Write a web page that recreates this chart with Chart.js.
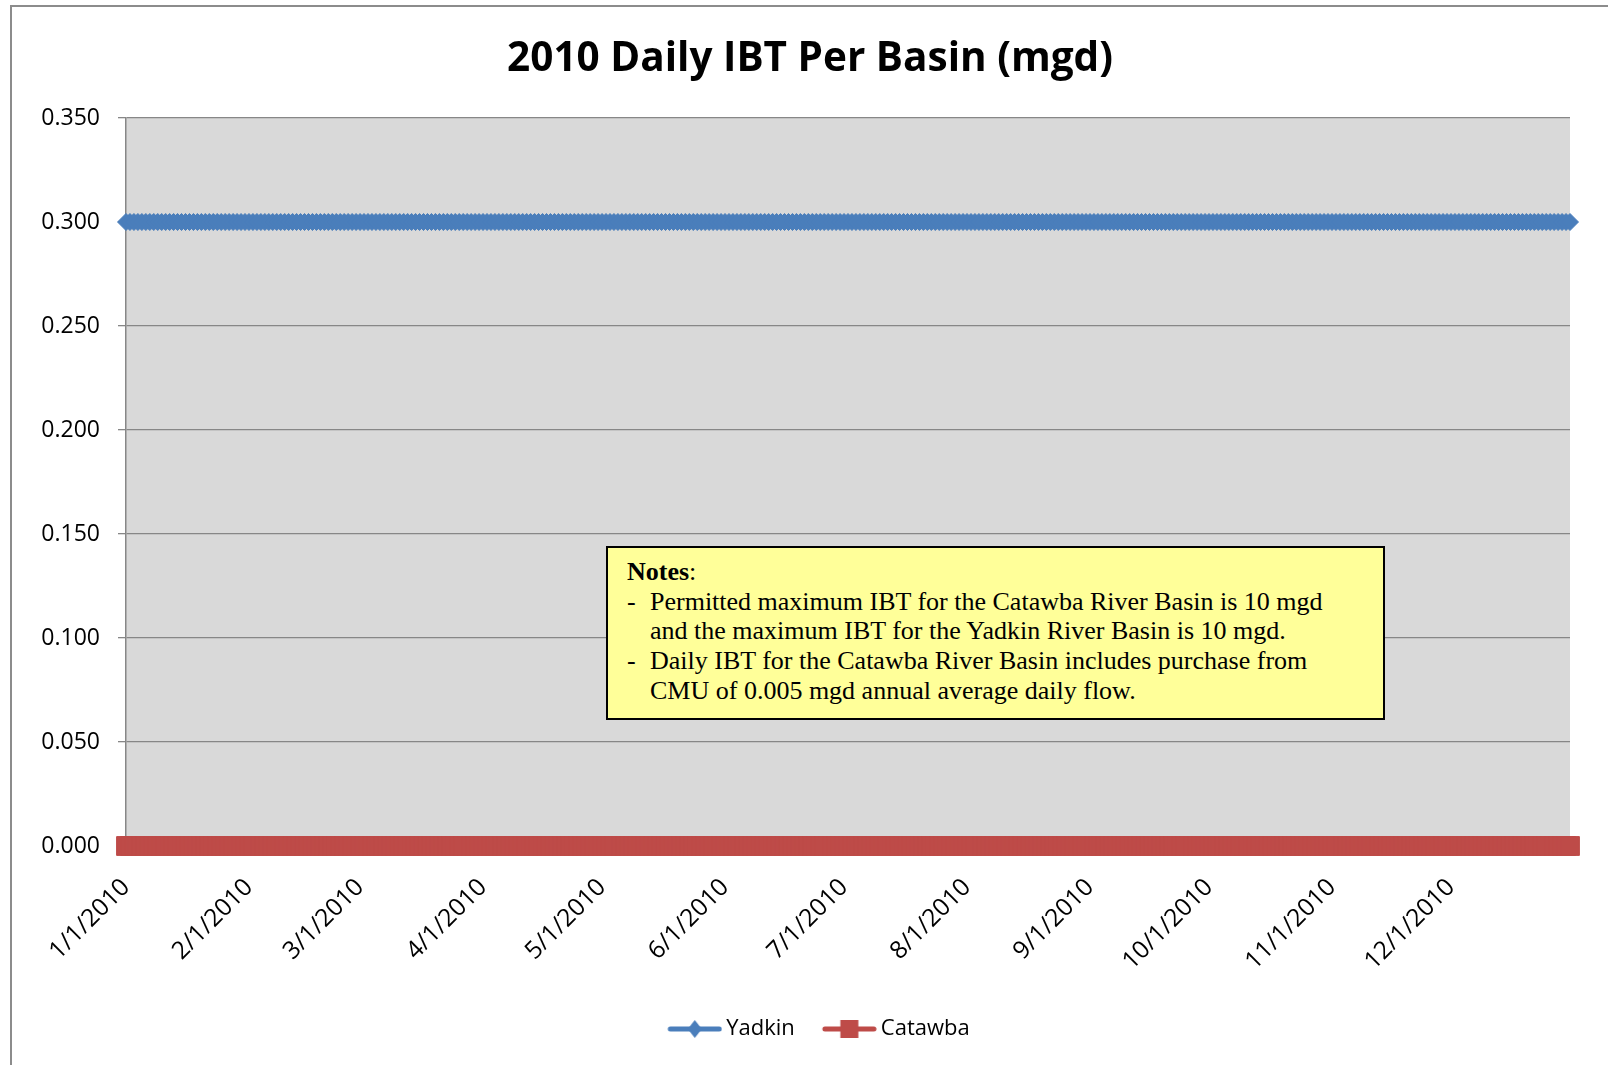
<!DOCTYPE html>
<html>
<head>
<meta charset="utf-8">
<title>2010 Daily IBT Per Basin (mgd)</title>
<script src="https://cdn.jsdelivr.net/npm/chart.js@4.4.1/dist/chart.umd.min.js"></script>
<style>
    html, body { margin: 0; padding: 0; background: #fff; }
    #wrap { position: relative; width: 1608px; height: 1065px; overflow: hidden; }
    #frame {
        position: absolute; left: 10px; top: 5px; width: 1620px; height: 1100px;
        border-left: 2px solid #8c8c8c; border-top: 2px solid #8c8c8c;
    }
    #ibtChart { position: absolute; left: 0; top: 0; }
    #notes {
        position: absolute; left: 606px; top: 546px; width: 779px; height: 174px;
        box-sizing: border-box; border: 2px solid #000; background: #ffff99;
        padding: 9px 0 0 19px;
        font-family: "Liberation Serif", "Times New Roman", serif; font-size: 26px;
        line-height: 29.7px; color: #000; white-space: nowrap;
    }
    #notes .item { position: relative; padding-left: 23px; }
    #notes .item span.dash { position: absolute; left: 0; top: 0; }
</style>
</head>
<body>
<div id="wrap">
    <div id="frame"></div>
    <canvas id="ibtChart" width="1608" height="1065"></canvas>
    <div id="notes">
        <div><b>Notes</b>:</div>
        <div class="item"><span class="dash">-</span>Permitted maximum IBT for the Catawba River Basin is 10 mgd<br>and the maximum IBT for the Yadkin River Basin is 10 mgd.</div>
        <div class="item"><span class="dash">-</span>Daily IBT for the Catawba River Basin includes purchase from<br>CMU of 0.005 mgd annual average daily flow.</div>
    </div>
</div>

<script>
// Days in each month of 2010, used to build the daily date categories
const monthDays = [31, 28, 31, 30, 31, 30, 31, 31, 30, 31, 30, 31];

// Y axis ticks (mgd)
const yMin = 0;
const yMax = 0.35;
const yStep = 0.05;

// Daily IBT, Yadkin basin (mgd), one row per month
const yadkin = [
    0.3,0.3,0.3,0.3,0.3,0.3,0.3,0.3,0.3,0.3, 0.3,0.3,0.3,0.3,0.3,0.3,0.3,0.3,0.3,0.3, 0.3,0.3,0.3,0.3,0.3,0.3,0.3,0.3,0.3,0.3, 0.3,
    0.3,0.3,0.3,0.3,0.3,0.3,0.3,0.3,0.3,0.3, 0.3,0.3,0.3,0.3,0.3,0.3,0.3,0.3,0.3,0.3, 0.3,0.3,0.3,0.3,0.3,0.3,0.3,0.3,
    0.3,0.3,0.3,0.3,0.3,0.3,0.3,0.3,0.3,0.3, 0.3,0.3,0.3,0.3,0.3,0.3,0.3,0.3,0.3,0.3, 0.3,0.3,0.3,0.3,0.3,0.3,0.3,0.3,0.3,0.3, 0.3,
    0.3,0.3,0.3,0.3,0.3,0.3,0.3,0.3,0.3,0.3, 0.3,0.3,0.3,0.3,0.3,0.3,0.3,0.3,0.3,0.3, 0.3,0.3,0.3,0.3,0.3,0.3,0.3,0.3,0.3,0.3,
    0.3,0.3,0.3,0.3,0.3,0.3,0.3,0.3,0.3,0.3, 0.3,0.3,0.3,0.3,0.3,0.3,0.3,0.3,0.3,0.3, 0.3,0.3,0.3,0.3,0.3,0.3,0.3,0.3,0.3,0.3, 0.3,
    0.3,0.3,0.3,0.3,0.3,0.3,0.3,0.3,0.3,0.3, 0.3,0.3,0.3,0.3,0.3,0.3,0.3,0.3,0.3,0.3, 0.3,0.3,0.3,0.3,0.3,0.3,0.3,0.3,0.3,0.3,
    0.3,0.3,0.3,0.3,0.3,0.3,0.3,0.3,0.3,0.3, 0.3,0.3,0.3,0.3,0.3,0.3,0.3,0.3,0.3,0.3, 0.3,0.3,0.3,0.3,0.3,0.3,0.3,0.3,0.3,0.3, 0.3,
    0.3,0.3,0.3,0.3,0.3,0.3,0.3,0.3,0.3,0.3, 0.3,0.3,0.3,0.3,0.3,0.3,0.3,0.3,0.3,0.3, 0.3,0.3,0.3,0.3,0.3,0.3,0.3,0.3,0.3,0.3, 0.3,
    0.3,0.3,0.3,0.3,0.3,0.3,0.3,0.3,0.3,0.3, 0.3,0.3,0.3,0.3,0.3,0.3,0.3,0.3,0.3,0.3, 0.3,0.3,0.3,0.3,0.3,0.3,0.3,0.3,0.3,0.3,
    0.3,0.3,0.3,0.3,0.3,0.3,0.3,0.3,0.3,0.3, 0.3,0.3,0.3,0.3,0.3,0.3,0.3,0.3,0.3,0.3, 0.3,0.3,0.3,0.3,0.3,0.3,0.3,0.3,0.3,0.3, 0.3,
    0.3,0.3,0.3,0.3,0.3,0.3,0.3,0.3,0.3,0.3, 0.3,0.3,0.3,0.3,0.3,0.3,0.3,0.3,0.3,0.3, 0.3,0.3,0.3,0.3,0.3,0.3,0.3,0.3,0.3,0.3,
    0.3,0.3,0.3,0.3,0.3,0.3,0.3,0.3,0.3,0.3, 0.3,0.3,0.3,0.3,0.3,0.3,0.3,0.3,0.3,0.3, 0.3,0.3,0.3,0.3,0.3,0.3,0.3,0.3,0.3,0.3, 0.3
];

// Daily IBT, Catawba basin (mgd), one row per month
const catawba = [
    0,0,0,0,0,0,0,0,0,0, 0,0,0,0,0,0,0,0,0,0, 0,0,0,0,0,0,0,0,0,0, 0,
    0,0,0,0,0,0,0,0,0,0, 0,0,0,0,0,0,0,0,0,0, 0,0,0,0,0,0,0,0,
    0,0,0,0,0,0,0,0,0,0, 0,0,0,0,0,0,0,0,0,0, 0,0,0,0,0,0,0,0,0,0, 0,
    0,0,0,0,0,0,0,0,0,0, 0,0,0,0,0,0,0,0,0,0, 0,0,0,0,0,0,0,0,0,0,
    0,0,0,0,0,0,0,0,0,0, 0,0,0,0,0,0,0,0,0,0, 0,0,0,0,0,0,0,0,0,0, 0,
    0,0,0,0,0,0,0,0,0,0, 0,0,0,0,0,0,0,0,0,0, 0,0,0,0,0,0,0,0,0,0,
    0,0,0,0,0,0,0,0,0,0, 0,0,0,0,0,0,0,0,0,0, 0,0,0,0,0,0,0,0,0,0, 0,
    0,0,0,0,0,0,0,0,0,0, 0,0,0,0,0,0,0,0,0,0, 0,0,0,0,0,0,0,0,0,0, 0,
    0,0,0,0,0,0,0,0,0,0, 0,0,0,0,0,0,0,0,0,0, 0,0,0,0,0,0,0,0,0,0,
    0,0,0,0,0,0,0,0,0,0, 0,0,0,0,0,0,0,0,0,0, 0,0,0,0,0,0,0,0,0,0, 0,
    0,0,0,0,0,0,0,0,0,0, 0,0,0,0,0,0,0,0,0,0, 0,0,0,0,0,0,0,0,0,0,
    0,0,0,0,0,0,0,0,0,0, 0,0,0,0,0,0,0,0,0,0, 0,0,0,0,0,0,0,0,0,0, 0
];

const seriesNames = ['Yadkin', 'Catawba'];
const seriesColors = ['#4a7ebb', '#be4b48'];

// Build m/d/2010 labels for every day
const dateLabels = [];
monthDays.forEach((n, m) => {
    for (let d = 1; d <= n; d++) dateLabels.push((m + 1) + '/' + d + '/2010');
});

// Legend icon: line segment with the series marker in the middle
function legendIcon(color, shape) {
    const c = document.createElement('canvas');
    c.width = 79;
    c.height = 22;
    const g = c.getContext('2d');
    g.strokeStyle = color;
    g.lineWidth = 5;
    g.lineCap = 'round';
    g.beginPath();
    g.moveTo(27, 11);
    g.lineTo(76, 11);
    g.stroke();
    g.fillStyle = color;
    const cx = 51.5;
    if (shape === 'diamond') {
        g.beginPath();
        g.moveTo(cx, 2);
        g.lineTo(cx + 7, 11);
        g.lineTo(cx, 20);
        g.lineTo(cx - 7, 11);
        g.closePath();
        g.fill();
    } else {
        g.fillRect(cx - 9, 2, 18, 18);
    }
    return c;
}
const legendIcons = [legendIcon(seriesColors[0], 'diamond'), legendIcon(seriesColors[1], 'square')];

// Grey plot area like the spreadsheet
const plotBackground = {
    id: 'plotBackground',
    beforeDraw(chart) {
        const { ctx, chartArea: a } = chart;
        ctx.save();
        ctx.fillStyle = '#d9d9d9';
        ctx.fillRect(a.left, a.top, a.right - a.left, a.bottom - a.top);
        ctx.restore();
    }
};

// the y labels stick out past the left layout padding; widen their clip box
const unclipYLabels = {
    id: 'unclipYLabels',
    afterLayout(chart) {
        chart.scales.y.left = 0;
    }
};

const ctx = document.getElementById('ibtChart');
new Chart(ctx, {
    type: 'line',
    data: {
        labels: dateLabels,
        datasets: [{
            label: seriesNames[0],
            data: yadkin,
            borderColor: seriesColors[0],
            backgroundColor: seriesColors[0],
            borderWidth: 3,
            pointStyle: 'rectRot',
            pointRadius: 8.5,
            pointBorderWidth: 1,
            pointBorderColor: seriesColors[0],
            pointBackgroundColor: seriesColors[0],
            clip: false
        }, {
            label: seriesNames[1],
            data: catawba,
            borderColor: seriesColors[1],
            backgroundColor: seriesColors[1],
            borderWidth: 3,
            pointStyle: 'rect',
            pointRadius: 13.3,
            pointBorderWidth: 1,
            pointBorderColor: seriesColors[1],
            pointBackgroundColor: seriesColors[1],
            clip: false
        }]
    },
    options: {
        responsive: false,
        animation: false,
        events: [],
        layout: {
            padding: { top: 0, left: 50, right: 38, bottom: 15 }
        },
        scales: {
            x: {
                afterFit: function (scale) {
                    scale.height = 162;
                    // keep the plot edges where the layout padding puts them
                    scale.paddingLeft = 0;
                    scale.paddingRight = 0;
                },
                grid: { display: false },
                border: { display: false },
                ticks: {
                    autoSkip: false,
                    minRotation: 45,
                    maxRotation: 45,
                    padding: 19,
                    color: '#000',
                    font: { family: 'Open Sans', size: 24.5 },
                    callback: function (value) {
                        const lab = this.getLabelForValue(value);
                        return lab.split('/')[1] === '1' ? lab : '';
                    }
                }
            },
            y: {
                min: yMin,
                max: yMax,
                afterFit: function (scale) { scale.width = 76; },
                grid: { color: '#878787', lineWidth: 1.3, tickLength: 8 },
                border: { display: true, color: '#878787', width: 1.5 },
                ticks: {
                    stepSize: yStep,
                    padding: 18,
                    color: '#000',
                    font: { family: 'Open Sans', size: 23 },
                    callback: function (value) { return value.toFixed(3); }
                }
            }
        },
        plugins: {
            title: {
                display: true,
                text: '2010 Daily IBT Per Basin (mgd)',
                color: '#000',
                font: { family: 'Open Sans', size: 40.5, weight: 'bold' },
                padding: { top: 35, bottom: 34.4 }
            },
            legend: {
                position: 'bottom',
                labels: {
                    usePointStyle: true,
                    pointStyleWidth: 65,
                    boxHeight: 22,
                    padding: 10,
                    color: '#000',
                    font: { family: 'Open Sans', size: 22 },
                    generateLabels: function (chart) {
                        const items = Chart.defaults.plugins.legend.labels.generateLabels(chart);
                        items.forEach((it, i) => { it.pointStyle = legendIcons[i]; });
                        return items;
                    }
                }
            },
            tooltip: { enabled: false }
        }
    },
    plugins: [plotBackground, unclipYLabels]
});
</script>
</body>
</html>
